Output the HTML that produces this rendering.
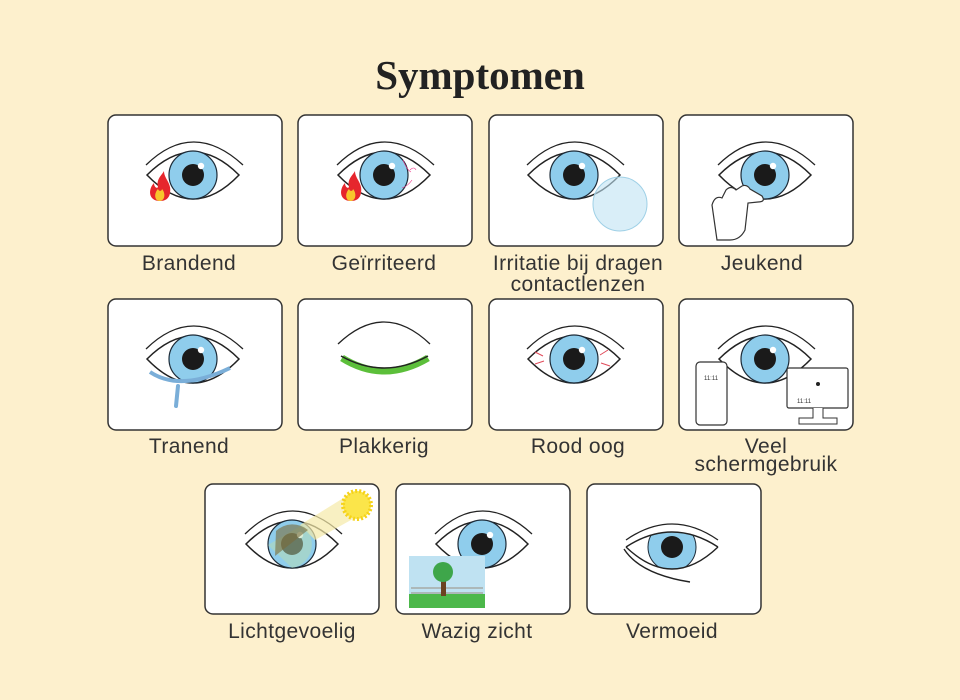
<!DOCTYPE html>
<html><head><meta charset="utf-8"><style>
html,body{margin:0;padding:0;background:#fdf0cd;}
svg{display:block}
text{font-family:"Liberation Sans",sans-serif;fill:#333;}
</style></head><body>
<svg width="960" height="700" viewBox="0 0 960 700" xmlns="http://www.w3.org/2000/svg">
<defs>
<g id="eye">
  <path d="M-47,-10 Q0,-56 50,-10" fill="none" stroke="#222" stroke-width="1.3"/>
  <path d="M-46,0 Q0,-46 46,0 Q0,48 -46,0 Z" fill="#fff" stroke="#222" stroke-width="1.5"/>
  <circle r="24" fill="#8fcdec" stroke="#1d2b38" stroke-width="1.2"/>
  <circle r="11" fill="#1a1a1a"/>
  <circle cx="8" cy="-9" r="3.2" fill="#fff"/>
</g>
<g id="flame">
  <path d="M0,14 C-12,14 -12,2 -6,-4 C-6,0 -3,2 -2,0 C-4,-8 2,-12 4,-16 C4,-8 12,-4 10,6 C9,12 5,14 0,14 Z" fill="#e6262d"/>
  <path d="M0,14 C-6,14 -6,6 -2,2 C-1,5 2,4 2,2 C5,5 6,13 0,14 Z" fill="#f8c62c"/>
</g>
</defs>
<text x="480" y="89" text-anchor="middle" style="font-family:'Liberation Serif',serif;font-weight:bold;font-size:41px;fill:#222">Symptomen</text>

<g fill="#fff" stroke="#333" stroke-width="1.5">
<rect x="108" y="115" width="174" height="131" rx="8"/>
<rect x="298" y="115" width="174" height="131" rx="8"/>
<rect x="489" y="115" width="174" height="131" rx="8"/>
<rect x="679" y="115" width="174" height="131" rx="8"/>
<rect x="108" y="299" width="174" height="131" rx="8"/>
<rect x="298" y="299" width="174" height="131" rx="8"/>
<rect x="489" y="299" width="174" height="131" rx="8"/>
<rect x="679" y="299" width="174" height="131" rx="8"/>
<rect x="205" y="484" width="174" height="130" rx="8"/>
<rect x="396" y="484" width="174" height="130" rx="8"/>
<rect x="587" y="484" width="174" height="130" rx="8"/>
</g>

<!-- row 1 -->
<use href="#eye" x="193" y="175"/>
<use href="#flame" x="160" y="187"/>
<use href="#eye" x="384" y="175"/>
<path d="M403,160 q4,10 8,12 M410,170 q4,-4 6,0 M402,188 q6,-2 10,-8" stroke="#e38" stroke-width="0.6" fill="none"/>
<use href="#flame" x="351" y="187"/>
<use href="#eye" x="574" y="175"/>
<circle cx="620" cy="204" r="27" fill="#bfe3f3" fill-opacity="0.6" stroke="#9fd0e6"/>
<use href="#eye" x="765" y="175"/>
<path d="M717,240 L712,205 Q715,195 722,198 L726,190 Q731,185 736,190 L742,186 Q747,184 750,189 L762,196 Q766,202 758,202 L748,203 L745,230 Q740,240 730,240 Z" fill="#fff" stroke="#333" stroke-width="1.2"/>

<!-- row 2 -->
<use href="#eye" x="193" y="359"/>
<path d="M150,372 Q180,392 230,368" stroke="#7aaed8" stroke-width="4" fill="none"/>
<path d="M178,386 L176,406" stroke="#7aaed8" stroke-width="4" stroke-linecap="round"/>
<path d="M338,344 Q384,300 430,344" fill="none" stroke="#222" stroke-width="1.3"/>
<path d="M342,358 Q384,384 428,358" fill="none" stroke="#5cbf3a" stroke-width="7"/>
<path d="M341,356 Q384,380 428,356" fill="none" stroke="#222" stroke-width="1.5"/>
<use href="#eye" x="574" y="359"/>
<path d="M535,352 l8,4 M535,364 l9,-3 M608,350 l-8,5 M610,366 l-9,-3" stroke="#e04a5a" stroke-width="1"/>
<use href="#eye" x="765" y="359"/>
<rect x="696" y="362" width="31" height="63" rx="4" fill="#fff" stroke="#333" stroke-width="1.2"/>
<text x="711" y="380" text-anchor="middle" style="font-size:6px">11:11</text>
<rect x="787" y="368" width="61" height="40" rx="2" fill="#fff" stroke="#333" stroke-width="1.2"/>
<circle cx="818" cy="384" r="2" fill="#222"/>
<text x="797" y="403" style="font-size:6px">11:11</text>
<path d="M813,408 v10 h-14 v6 h38 v-6 h-14 v-10" fill="#fff" stroke="#333"/>

<!-- row 3 -->
<use href="#eye" x="292" y="544"/>
<path d="M300,525 L345,497 L360,515 L315,540 Z" fill="#f5e9a8" opacity="0.7"/>
<path d="M268,545 L302,525 A24,24 0 0 1 292,568 Z" fill="#b8dcb0" opacity="0.5"/>
<path d="M276,531 A24,24 0 0 1 308,530 L275,556 Z" fill="#7a6a3a" opacity="0.6"/>
<circle cx="357" cy="505" r="14" fill="#fbe54a" stroke="#f5d21a" stroke-width="4" stroke-dasharray="2 2"/>
<use href="#eye" x="482" y="544"/>
<rect x="409" y="556" width="76" height="52" fill="#bfe2f2"/>
<rect x="409" y="594" width="76" height="14" fill="#4cb84a"/>
<path d="M411,593 h72 M411,588 h72" stroke="#9a8f80"/>
<rect x="441" y="578" width="5" height="18" fill="#6b4220"/>
<circle cx="443" cy="572" r="10" fill="#3ea64a"/>
<path d="M626,540 Q672,508 718,540" fill="none" stroke="#222" stroke-width="1.3"/>
<g>
<clipPath id="vc"><path d="M626,547 Q672,517 718,547 Q672,591 626,547 Z"/></clipPath>
<g clip-path="url(#vc)"><circle cx="672" cy="547" r="24" fill="#8fcdec" stroke="#1d2b38"/><circle cx="672" cy="547" r="11" fill="#1a1a1a"/></g>
<path d="M626,547 Q672,517 718,547 M626,547 Q672,591 718,547 M624,549 Q640,574 690,582" fill="none" stroke="#222" stroke-width="1.4"/>
</g>

<g font-size="21" text-anchor="middle" letter-spacing="0.4">
<text x="189" y="270">Brandend</text>
<text x="384" y="270">Geïrriteerd</text>
<text x="578" y="270">Irritatie bij dragen</text>
<text x="578" y="291">contactlenzen</text>
<text x="762" y="270">Jeukend</text>
<text x="189" y="453">Tranend</text>
<text x="384" y="453">Plakkerig</text>
<text x="578" y="453">Rood oog</text>
<text x="766" y="453">Veel</text>
<text x="766" y="471">schermgebruik</text>
<text x="292" y="638">Lichtgevoelig</text>
<text x="477" y="638">Wazig zicht</text>
<text x="672" y="638">Vermoeid</text>
</g>
</svg>
</body></html>
